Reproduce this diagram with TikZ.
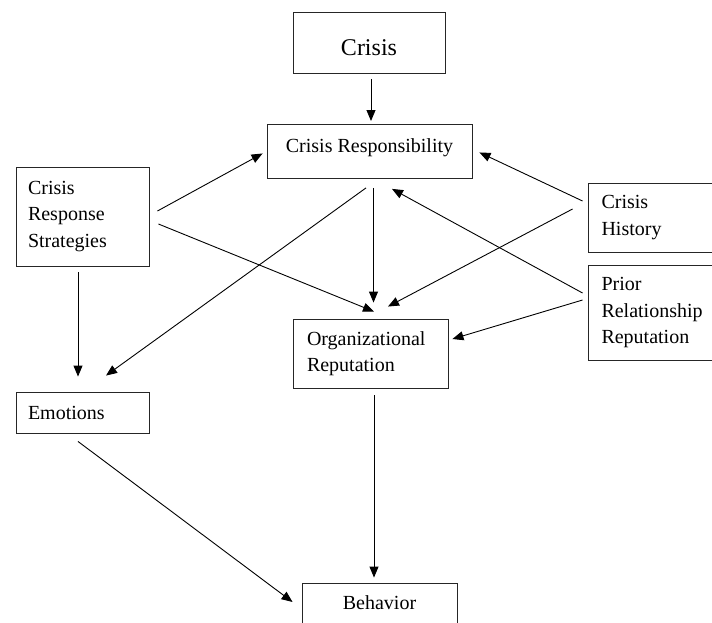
\documentclass[tikz,border=0pt]{standalone}
\usepackage{fontspec}
\setmainfont{Liberation Serif}
\usetikzlibrary{arrows.meta,calc}
\tikzset{
  box/.style={draw=black!85, line width=0.9pt, inner ysep=0pt, font=\fontsize{20}{26.5}\selectfont},
  lbox/.style={box, align=left},
  arr/.style={line width=0.9pt, -{Triangle[length=11pt,width=9pt]}},
}
\begin{document}
\begin{tikzpicture}[x=1pt,y=-1pt]
\clip (0,0) rectangle (712,622);
\fill[white] (0,0) rectangle (712,622);
% boxes
\node[box, anchor=north, minimum width=152pt, inner xsep=0pt, text height=43pt, text depth=18pt, font=\fontsize{24}{28}\selectfont] (crisis) at (369,12) {Crisis};
\node[box, anchor=north, minimum width=205pt, inner xsep=0pt, text height=28pt, text depth=26pt] (cr) at (369.5,124) {Crisis Responsibility};
\node[lbox, inner xsep=12pt, text width=109pt, minimum height=99pt] (crs) at (82.5,216.5) {Crisis\\Response\\Strategies};
\node[lbox, inner xsep=13.5pt, text width=115pt, minimum height=69pt] (ch) at (659,217.5) {Crisis\\History};
\node[lbox, inner xsep=13.5pt, text width=115pt, minimum height=95pt] (prior) at (659,312.5) {Prior\\Relationship\\Reputation};
\node[lbox, inner xsep=14pt, text width=127pt, minimum height=69pt] (org) at (370.5,353.5) {Organizational\\Reputation};
\node[lbox, inner xsep=12pt, text width=109pt, minimum height=41pt] (emo) at (82.5,412.5) {Emotions};
\node[box, align=center, inner xsep=0pt, minimum width=155pt, minimum height=40pt] (beh) at (379.5,603) {Behavior};
% connectors
\draw[arr] ($(crisis.south)+(2,5)$) -- ($(cr.north)+(1.5,-3)$);
\draw[arr] ($(crs.east)+(8,-5.5)$) -- ($(cr.west)+(-4,2)$);
\draw[arr] ($(crs.east)+(9,7.5)$) -- ($(org.north)+(3.5,-7)$);
\draw[arr] ($(cr.south)+(-3.5,9)$) -- ($(emo.north)+(23.5,-16)$);
\draw[arr] ($(cr.south)+(4,9)$) -- ($(org.north)+(3,-16)$);
\draw[arr] ($(ch.west)+(-5,-16.5)$) -- ($(cr.east)+(7,1)$);
\draw[arr] ($(ch.west)+(-15,-8.5)$) -- ($(org.north)+(17.5,-12)$);
\draw[arr] ($(prior.west)+(-5,-19.5)$) -- ($(cr.south)+(22.5,10)$);
\draw[arr] ($(prior.west)+(-5,-12.5)$) -- ($(org.east)+(4,-14.5)$);
\draw[arr] ($(crs.south)+(-4.5,6)$) -- ($(emo.north)+(-4.5,-15)$);
\draw[arr] ($(emo.south)+(-4.5,8)$) -- ($(beh.west)+(-9,-1)$);
\draw[arr] ($(org.south)+(3.5,7)$) -- ($(beh.north)+(-5.5,-5)$);
\end{tikzpicture}
\end{document}
